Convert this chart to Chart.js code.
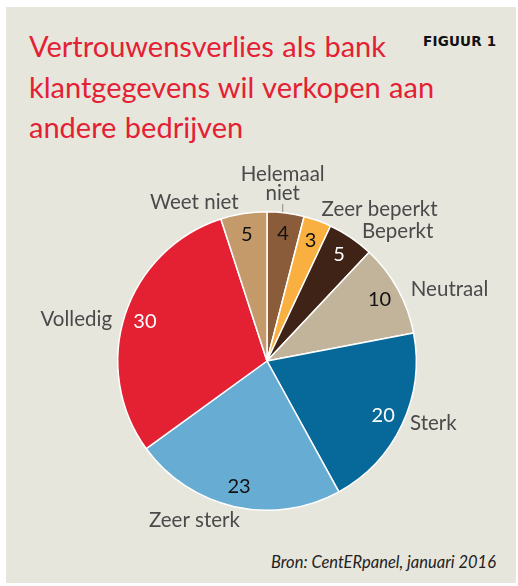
<!DOCTYPE html>
<html lang="nl">
  <head>
    <meta charset="UTF-8" />
    <title>Vertrouwensverlies</title>
    <script src="https://cdn.jsdelivr.net/npm/chart.js"></script>
    <style>
      html, body { margin: 0; padding: 0; background: #fff; }
      .panel {
        position: absolute; left: 6px; top: 7px; width: 510px; height: 576px;
        background: #e7e6dd;
      }
      .title {
        position: absolute; left: 23px; top: 19px; margin: 0;
        font-family: Lato, sans-serif; font-weight: normal;
        font-size: 29px; line-height: 40.5px; color: #e32133;
        word-spacing: 1px;
      }
      .fig {
        position: absolute; left: 417px; top: 26px;
        font-family: "DejaVu Sans", sans-serif; font-weight: bold;
        font-size: 13.5px; color: #111; letter-spacing: 0.2px;
      }
      .source {
        position: absolute; right: 20px; top: 545px;
        font-family: Lato, sans-serif; font-style: italic;
        font-size: 16.5px; color: #222;
      }
      .wrap { position: absolute; left: 0; top: 0; width: 518px; height: 586px; }
    </style>
  </head>
  <body>
    <div class="panel">
      <h1 class="title">Vertrouwensverlies als bank<br />klantgegevens wil verkopen aan<br />andere bedrijven</h1>
      <div class="fig">FIGUUR 1</div>
      <div class="source">Bron: CentERpanel, januari 2016</div>
    </div>
    <div class="wrap"><canvas id="pie"></canvas></div>

    <script>
      const categories = ["Helemaal niet", "Zeer beperkt", "Beperkt", "Neutraal", "Sterk", "Zeer sterk", "Volledig", "Weet niet"];
      const values = [4, 3, 5, 10, 20, 23, 30, 5];
      const colors = ["#8a5c3a", "#f9b040", "#3e2316", "#c2b49a", "#07699a", "#67acd3", "#e32133", "#c49a6a"];
      const valueColors = ["#111", "#111", "#fff", "#111", "#fff", "#111", "#fff", "#111"];

      // label placement relative to the outer edge at the middle of each slice
      const labelPlace = [
        { dx: -3, dy: -20, align: "center", lines: ["Helemaal", "niet"], tick: true },
        { dx: 4, dy: -11, align: "left" },
        { dx: 11, dy: -6, align: "left" },
        { dx: 13, dy: 0, align: "left" },
        { dx: 8, dy: -1, align: "left" },
        { dx: -40, dy: 14, align: "center" },
        { dx: -13, dy: 5, align: "right" },
        { dx: -5, dy: -11, align: "right" },
      ];

      const labelPlugin = {
        id: "sliceLabels",
        afterDatasetsDraw(chart) {
          const c = chart.ctx;
          const arcs = chart.getDatasetMeta(0).data;
          c.save();
          c.textBaseline = "middle";
          arcs.forEach((arc, i) => {
            const mid = (arc.startAngle + arc.endAngle) / 2;
            const r = arc.outerRadius;
            // value inside slice
            c.font = "20px Lato, sans-serif";
            c.textAlign = "center";
            c.fillStyle = valueColors[i];
            c.fillText(String(values[i]), arc.x + Math.cos(mid) * r * 0.86, arc.y + Math.sin(mid) * r * 0.86);

            // category outside
            const p = labelPlace[i];
            const ex = arc.x + Math.cos(mid) * r;
            const ey = arc.y + Math.sin(mid) * r;
            c.font = "20.5px Lato, sans-serif";
            c.fillStyle = "#4a4a4a";
            c.textAlign = p.align;
            if (p.lines) {
              c.fillText(p.lines[0], ex + p.dx, ey + p.dy - 19);
              c.fillText(p.lines[1], ex + p.dx, ey + p.dy);
            } else {
              c.fillText(categories[i], ex + p.dx, ey + p.dy);
            }
            if (p.tick) {
              c.strokeStyle = "#888";
              c.lineWidth = 1;
              c.beginPath();
              c.moveTo(ex - 3, ey - 1);
              c.lineTo(ex - 3, ey - 9);
              c.stroke();
            }
          });
          c.restore();
        },
      };

      new Chart(document.getElementById("pie"), {
        type: "pie",
        data: {
          labels: categories,
          datasets: [{ data: values, backgroundColor: colors, borderColor: "#ffffff", borderWidth: 1.5 }],
        },
        options: {
          responsive: true,
          maintainAspectRatio: false,
          animation: false,
          layout: { padding: { left: 117, right: 101, top: 211, bottom: 75 } },
          plugins: { legend: { display: false }, tooltip: { enabled: false } },
        },
        plugins: [labelPlugin],
      });
    </script>
  </body>
</html>
